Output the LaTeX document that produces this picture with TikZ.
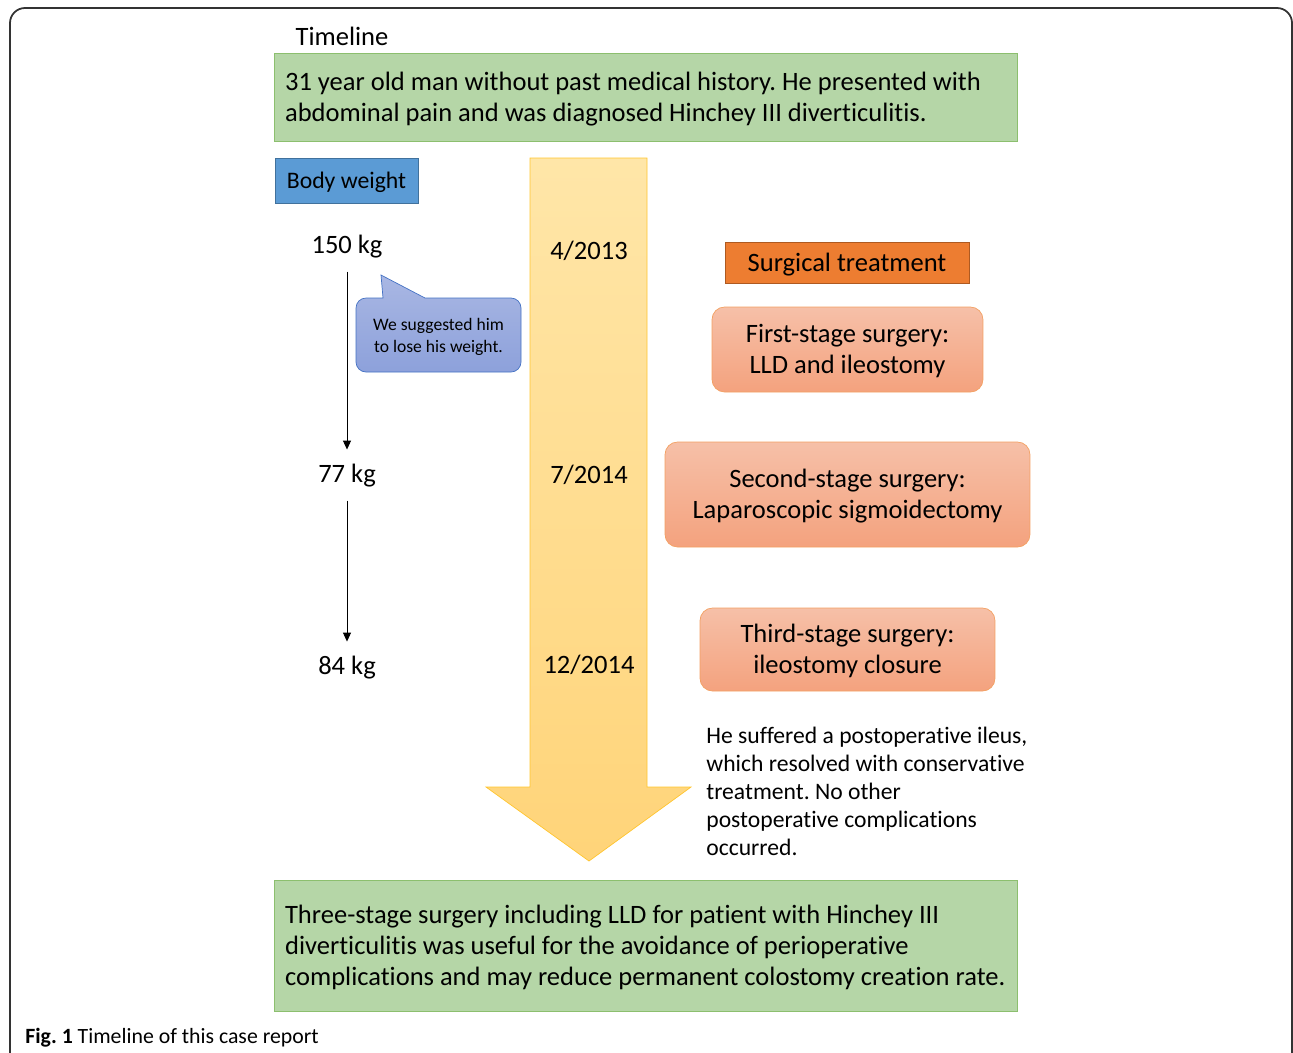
\documentclass[tikz,border=0pt]{standalone}
\usepackage{fontspec}
\setmainfont{Carlito}[Ligatures=CommonOff]
\usepackage{xcolor}
\usepackage{tikz}
\usetikzlibrary{arrows.meta, positioning}
\frenchspacing
\definecolor{infogreen}{HTML}{B5D6A7}
\definecolor{infogreenline}{HTML}{8CBF6E}
\definecolor{weightblue}{HTML}{5B9BD5}
\definecolor{weightblueline}{HTML}{41719C}
\definecolor{treatorange}{HTML}{ED7D31}
\definecolor{treatorangeline}{HTML}{AE5A21}
\definecolor{stagetop}{HTML}{F6C0A8}
\definecolor{stagebottom}{HTML}{F4A27E}
\definecolor{stageline}{HTML}{F3A062}
\definecolor{timetop}{HTML}{FFE6A8}
\definecolor{timebottom}{HTML}{FFD479}
\definecolor{timeline}{HTML}{FFC52E}
\definecolor{bubbletop}{HTML}{A9B7E3}
\definecolor{bubblebottom}{HTML}{8DA1DB}
\definecolor{bubbleline}{HTML}{4472C4}
\newcommand{\mainsize}{\fontsize{15.1}{17.6}\selectfont}
\newcommand{\notesize}{\fontsize{13.45}{15.9}\selectfont}
\newcommand{\bubblesize}{\fontsize{10}{12.1}\selectfont}
\tikzset{
        every node/.append style={execute at begin node={\spaceskip=0pt\xspaceskip=0pt}},
        infobox/.style={rectangle, draw=infogreenline, fill=infogreen, text width=14.42cm, align=left, minimum width=14.86cm, inner xsep=0.22cm, font=\mainsize},
        weighthead/.style={rectangle, draw=weightblueline, fill=weightblue, minimum width=2.86cm, minimum height=0.9cm, text depth=0.8pt, font=\fontsize{13.5}{16}\selectfont},
        treathead/.style={rectangle, draw=treatorangeline, fill=treatorange, minimum width=4.88cm, minimum height=0.82cm, text depth=0.8pt, font=\mainsize},
        stagebox/.style={rectangle, draw=stageline, top color=stagetop, bottom color=stagebottom, rounded corners=0.25cm, align=center, text depth=0.8pt, font=\mainsize},
        datelabel/.style={font=\mainsize},
        weightlabel/.style={font=\mainsize},
        arrow/.style={-{Triangle[length=5pt, width=4.5pt]}, thin, shorten <=4pt, shorten >=5pt},
        bubble/.style={draw=bubbleline, top color=bubbletop, bottom color=bubblebottom, thin},
    }
\begin{document}
\begin{tikzpicture}[x=0.02cm, y=-0.02cm]
        \useasboundingbox (0,0) rectangle (1293,1052);
        % frame
        \draw[line width=1pt, black!80, rounded corners=0.3cm] (10,1070) -- (10,8) -- (1292,8) -- (1292,1070);

        % title and summary
        \node[font=\mainsize] (title) at (342,36) {Timeline};
        \node[infobox, minimum height=1.76cm, text depth=17.6pt] (intro) at (645.5,97) {31 year old man without past medical history. He presented with\\abdominal pain and was diagnosed Hinchey III diverticulitis.};

        % time arrow
        \shade[top color=timetop, bottom color=timebottom, draw=timeline, thin] (530,158) -- (647,158) -- (647,787) -- (691,787) -- (589,861) -- (486,787) -- (530,787) -- cycle;
        \node[datelabel] (d2013) at (589,251) {4/2013};
        \node[datelabel] (d2014a) at (589,475) {7/2014};
        \node[datelabel] (d2014b) at (589,665) {12/2014};

        % body weight column
        \node[weighthead] (weight) at (346.5,180.5) {Body weight};
        \node[weightlabel] (w150) at (347,247) {150 kg};
        \node[weightlabel] (w77) at (347,476) {77 kg};
        \node[weightlabel] (w84) at (347,668) {84 kg};
        \draw[arrow] (w150) -- (w77);
        \draw[arrow] (w77) -- (w84);

        % speech bubble
        \shade[bubble] (381,275) -- (425,298) [rounded corners=0.2cm] -- (521,298) -- (521,372) -- (356,372) -- (356,298) [sharp corners] -- (383,298) -- cycle;
        \node[font=\bubblesize, align=center] (advice) at (438.5,337) {We suggested him\\to lose his weight.};

        % surgical treatment column
        \node[treathead] (treat) at (847,262.5) {Surgical treatment};
        \node[stagebox, minimum width=5.42cm, minimum height=1.7cm] (stage1) at (847.5,349.5) {First-stage surgery:\\LLD and ileostomy};
        \node[stagebox, minimum width=7.3cm, minimum height=2.1cm] (stage2) at (847.5,494.5) {Second-stage surgery:\\Laparoscopic sigmoidectomy};
        \node[stagebox, minimum width=5.9cm, minimum height=1.66cm] (stage3) at (847.5,649.5) {Third-stage surgery:\\ileostomy closure};
        \node[font=\notesize, align=left, anchor=north west, inner sep=0pt] (course) at (706,727) {He suffered a postoperative ileus,\\which resolved with conservative\\treatment. No other\\postoperative complications\\occurred.};

        % conclusion
        \node[infobox, minimum height=2.62cm, text depth=35.2pt] (outcome) at (645.5,945.5) {Three-stage surgery including LLD for patient with Hinchey III\\diverticulitis was useful for the avoidance of perioperative\\complications and may reduce permanent colostomy creation rate.};

        % caption
        \node[anchor=west, inner sep=0pt, font=\fontsize{12.4}{14}\selectfont] (caption) at (25,1038) {\textbf{Fig. 1} Timeline of this case report};
    \end{tikzpicture}
\end{document}
